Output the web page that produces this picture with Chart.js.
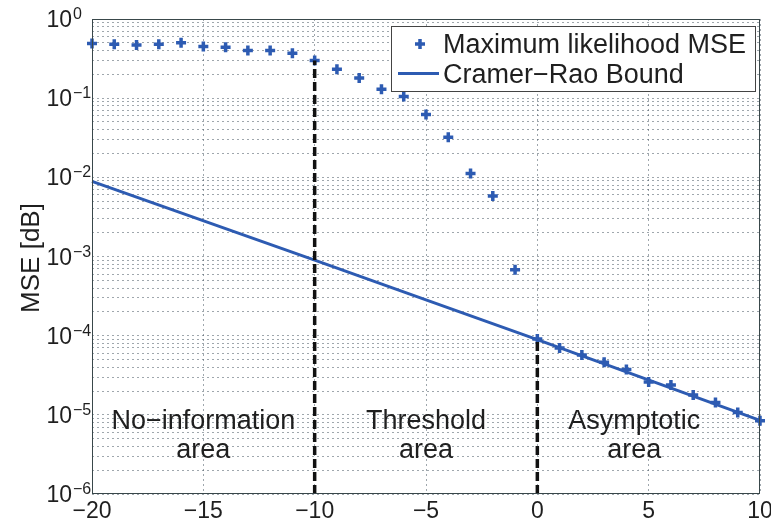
<!DOCTYPE html>
<html>
<head>
<meta charset="utf-8">
<script src="https://cdn.jsdelivr.net/npm/chart.js@4.4.0/dist/chart.umd.min.js"></script>
<style>
  html, body { margin: 0; padding: 0; background: #fff; }
  canvas { display: block; }
</style>
</head>
<body>
<canvas id="mseChart" width="771" height="521"></canvas>
<script>
// SNR [dB] on the x axis
const snrDb = [-20, -19, -18, -17, -16, -15, -14, -13, -12, -11, -10, -9, -8, -7, -6, -5,
    -4, -3, -2, -1, 0, 1, 2, 3, 4, 5, 6, 7, 8, 9, 10];
const mleMse = [0.49, 0.48, 0.47, 0.48, 0.50, 0.45, 0.44, 0.40, 0.40, 0.37, 0.30, 0.232,
    0.18, 0.13, 0.105, 0.062, 0.032, 0.0112, 0.0058, 6.8e-4, 9.1e-5, 7.0e-5, 5.7e-5,
    4.6e-5, 3.75e-5, 2.6e-5, 2.38e-5, 1.78e-5, 1.43e-5, 1.07e-5, 8.4e-6];
const crbSnr = [-20, -10, 0, 10];
const crbMse = [8.9e-3, 9.0e-4, 8.9e-5, 8.5e-6];
const thresholdSnr = [-10, 0];
const xTicks = [-20, -15, -10, -5, 0, 5, 10];
const yExponents = [-6, -5, -4, -3, -2, -1, 0];
const legendNames = ['Maximum likelihood MSE', 'Cramer\u2212Rao Bound'];
const areaNames = [['No\u2212information', 'area'], ['Threshold', 'area'], ['Asymptotic', 'area']];
const areaCenters = [-15, -5, 4.35];

const BLUE = '#2d5bb2';
const TEXT = '#1f1f1f';
const FONT = '"Liberation Sans", Arial, sans-serif';

const mlePoints = snrDb.map((s, i) => ({ x: s, y: mleMse[i] }));
const crbPoints = crbSnr.map((s, i) => ({ x: s, y: crbMse[i] }));

function dashedAt(s) {
    const top = mleMse[snrDb.indexOf(s)];
    return {
        data: [{ x: s, y: 1e-6 }, { x: s, y: top }],
        showLine: true,
        borderColor: '#111',
        borderWidth: 3.5,
        borderDash: [9, 4],
        pointRadius: 0,
        clip: false
    };
}

// all minor/major positions of the log axis
const yGridValues = [];
yExponents.forEach(e => {
    for (let m = 1; m <= 9; m++) {
        if (e === 0 && m > 1) break;
        yGridValues.push(m * Math.pow(10, e));
    }
});

const decorations = {
    id: 'decorations',
    beforeDraw(chart) {
        const ctx = chart.ctx;
        ctx.save();
        ctx.fillStyle = '#fff';
        ctx.fillRect(0, 0, chart.width, chart.height);
        ctx.restore();
    },
    afterDraw(chart) {
        const { ctx, chartArea: a, scales: { x, y } } = chart;
        ctx.save();

        // axes box
        ctx.strokeStyle = '#39474a';
        ctx.lineWidth = 1;
        ctx.strokeRect(a.left + 0.5, a.top + 0.5, a.right - a.left - 1, a.bottom - a.top - 1);

        // y tick labels 10^n
        ctx.fillStyle = TEXT;
        yExponents.forEach(e => {
            const py = y.getPixelForValue(Math.pow(10, e));
            ctx.font = '23px ' + FONT;
            ctx.textAlign = 'right';
            ctx.textBaseline = 'alphabetic';
            ctx.fillText('10', 72, py + 8);
            ctx.font = '16px ' + FONT;
            ctx.textAlign = 'left';
            ctx.fillText(e === 0 ? '0' : '\u2212' + Math.abs(e), 73, py);
        });

        // x tick labels
        ctx.font = '23px ' + FONT;
        ctx.textAlign = 'center';
        xTicks.forEach(t => {
            const label = t < 0 ? '\u2212' + Math.abs(t) : String(t);
            ctx.fillText(label, x.getPixelForValue(t), 518);
        });

        // y axis title
        ctx.save();
        ctx.translate(32, 258);
        ctx.rotate(-Math.PI / 2);
        ctx.font = '26px ' + FONT;
        ctx.textBaseline = 'middle';
        ctx.fillText('MSE [dB]', 0, 0);
        ctx.restore();

        // area annotations
        ctx.font = '27px ' + FONT;
        ctx.textAlign = 'center';
        areaNames.forEach((lines, i) => {
            const px = x.getPixelForValue(areaCenters[i]);
            ctx.fillText(lines[0], px, 429);
            ctx.fillText(lines[1], px, 458);
        });

        // legend
        const lx = 391, ly = 26, lw = 364, lh = 65;
        ctx.fillStyle = '#fff';
        ctx.fillRect(lx, ly, lw, lh);
        ctx.strokeStyle = '#444';
        ctx.lineWidth = 1;
        ctx.strokeRect(lx + 0.5, ly + 0.5, lw, lh);

        ctx.strokeStyle = BLUE;
        ctx.lineWidth = 3.5;
        ctx.beginPath();
        ctx.moveTo(420 - 5, 44); ctx.lineTo(420 + 5, 44);
        ctx.moveTo(420, 44 - 5); ctx.lineTo(420, 44 + 5);
        ctx.stroke();
        ctx.lineWidth = 3;
        ctx.beginPath();
        ctx.moveTo(398, 73.5); ctx.lineTo(439, 73.5);
        ctx.stroke();

        ctx.fillStyle = TEXT;
        ctx.font = '27px ' + FONT;
        ctx.textAlign = 'left';
        ctx.fillText(legendNames[0], 443, 53);
        ctx.fillText(legendNames[1], 443, 83);

        ctx.restore();
    }
};

new Chart(document.getElementById('mseChart'), {
    type: 'scatter',
    data: {
        datasets: [
            dashedAt(thresholdSnr[0]),
            dashedAt(thresholdSnr[1]),
            {
                label: legendNames[1],
                data: crbPoints,
                showLine: true,
                borderColor: BLUE,
                borderWidth: 3,
                pointRadius: 0,
                clip: false
            },
            {
                label: legendNames[0],
                data: mlePoints,
                pointStyle: 'cross',
                pointRadius: 5,
                borderWidth: 3.5,
                borderColor: BLUE,
                backgroundColor: BLUE,
                clip: false
            }
        ]
    },
    plugins: [decorations],
    options: {
        responsive: false,
        animation: false,
        devicePixelRatio: 1,
        layout: { padding: { left: 92, right: 11, top: 19, bottom: 27 } },
        plugins: {
            legend: { display: false },
            tooltip: { enabled: false }
        },
        scales: {
            x: {
                type: 'linear',
                min: -20,
                max: 10,
                afterBuildTicks: scale => { scale.ticks = xTicks.map(v => ({ value: v })); },
                ticks: { display: false },
                grid: { color: 'rgba(80,95,105,0.55)', drawTicks: false, lineWidth: 1 },
                border: { display: false, dash: [2, 3] }
            },
            y: {
                type: 'logarithmic',
                min: 1e-6,
                max: 1,
                afterBuildTicks: scale => { scale.ticks = yGridValues.map(v => ({ value: v })); },
                ticks: { display: false },
                grid: { color: 'rgba(80,95,105,0.55)', drawTicks: false, lineWidth: 1 },
                border: { display: false, dash: [2, 3] }
            }
        }
    }
});
</script>
</body>
</html>
